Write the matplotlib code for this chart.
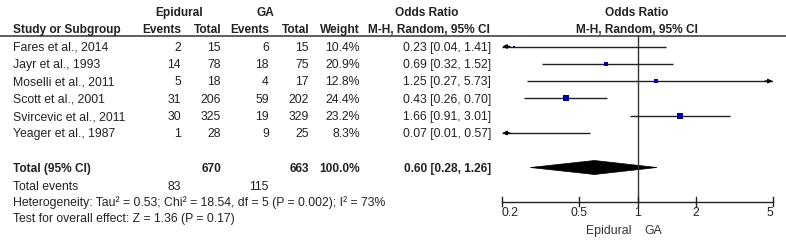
import numpy as np
import matplotlib.pyplot as plt
from matplotlib.patches import Polygon

plt.rcParams["font.family"] = ["Liberation Sans", "DejaVu Sans"]

# Study data
studies = ["Fares et al., 2014", "Jayr et al., 1993", "Moselli et al., 2011",
           "Scott et al., 2001", "Svircevic et al., 2011", "Yeager et al., 1987"]
epi_events = [2, 14, 5, 31, 30, 1]
epi_total = [15, 78, 18, 206, 325, 28]
ga_events = [6, 18, 4, 59, 19, 9]
ga_total = [15, 75, 17, 202, 329, 25]
weights = [10.4, 20.9, 12.8, 24.4, 23.2, 8.3]
odds = [0.23, 0.69, 1.25, 0.43, 1.66, 0.07]
ci_low = [0.04, 0.32, 0.27, 0.26, 0.91, 0.01]
ci_high = [1.41, 1.52, 5.73, 0.70, 3.01, 0.57]

total_epi, total_ga = 670, 663
events_epi, events_ga = 83, 115
pooled = (0.60, 0.28, 1.26)
heterogeneity = "Heterogeneity: Tau\u00b2 = 0.53; Chi\u00b2 = 18.54, df = 5 (P = 0.002); I\u00b2 = 73%"
overall = "Test for overall effect: Z = 1.36 (P = 0.17)"
ticks = [0.2, 0.5, 1, 2, 5]
tick_labels = ["0.2", "0.5", "1", "2", "5"]

W, H = 786, 248
fig = plt.figure(figsize=(W / 100, H / 100), dpi=100)
ax = fig.add_axes([0, 0, 1, 1])
ax.set_xlim(0, W)
ax.set_ylim(H, 0)
ax.axis("off")

fs = 8.8
fb = 8.6
tc = "#222222"
bl = 4.3  # baseline offset below row centre
rows_y = [46.5 + 17.3 * i for i in range(len(studies))]
y_total = 167.5
y_events = 186
y_het = 201.5
y_test = 217.5


def txt(x, y, s, ha="left", bold=False, axis=ax, color=tc):
    axis.text(x, y + bl, s, ha=ha, va="baseline", fontsize=fb if bold else fs,
              weight="bold" if bold else "normal", color=color)


# headers
txt(179, 12, "Epidural", "center", True)
txt(265, 12, "GA", "center", True)
txt(427, 12, "Odds Ratio", "center", True)
txt(637, 12, "Odds Ratio", "center", True)
txt(13, 28.5, "Study or Subgroup", "left", True)
for x, s in [(181, "Events"), (221, "Total"), (269, "Events"), (309, "Total"), (360, "Weight")]:
    txt(x, 28.5, s, "right", True)
txt(429, 28.5, "M-H, Random, 95% CI", "center", True)
txt(637, 28.5, "M-H, Random, 95% CI", "center", True)
ax.plot([0, W], [35.5, 35.5], color="#333333", lw=1.1)

for i, y in enumerate(rows_y):
    txt(13, y, studies[i])
    txt(181, y, str(epi_events[i]), "right")
    txt(221, y, str(epi_total[i]), "right")
    txt(269, y, str(ga_events[i]), "right")
    txt(309, y, str(ga_total[i]), "right")
    txt(360, y, f"{weights[i]:.1f}%", "right")
    txt(491, y, f"{odds[i]:.2f} [{ci_low[i]:.2f}, {ci_high[i]:.2f}]", "right")

txt(13, y_total, "Total (95% CI)", "left", True)
txt(221, y_total, str(total_epi), "right", True)
txt(309, y_total, str(total_ga), "right", True)
txt(360, y_total, "100.0%", "right", True)
txt(491, y_total, f"{pooled[0]:.2f} [{pooled[1]:.2f}, {pooled[2]:.2f}]", "right", True)
txt(13, y_events, "Total events")
txt(181, y_events, str(events_epi), "right")
txt(269, y_events, str(events_ga), "right")
txt(13, y_het, heterogeneity)
txt(13, y_test, overall)

# forest panel: log axis between x=502 and x=773 px
x0, x1 = 502, 773
fax = fig.add_axes([x0 / W, 0, (x1 - x0) / W, 1])
fax.set_xscale("log")
fax.set_xlim(0.2, 5)
fax.set_ylim(H, 0)
fax.axis("off")
lo, hi = 0.2, 5
y_axis = 201.5

fax.plot([1, 1], [35.5, y_axis], color="#333333", lw=1.0)
for i, y in enumerate(rows_y):
    a, b = max(ci_low[i], lo), min(ci_high[i], hi)
    fax.plot([a, b], [y, y], color="#222222", lw=1.0, solid_capstyle="butt")
    if ci_low[i] < lo:
        fax.annotate("", xy=(lo * 1.005, y), xytext=(lo * 1.1, y),
                     arrowprops=dict(arrowstyle="-|>", color="black", lw=1.0,
                                     mutation_scale=6, shrinkA=0, shrinkB=0))
    if ci_high[i] > hi:
        fax.annotate("", xy=(hi / 1.005, y), xytext=(hi / 1.1, y),
                     arrowprops=dict(arrowstyle="-|>", color="black", lw=1.0,
                                     mutation_scale=6, shrinkA=0, shrinkB=0))
    if lo <= odds[i] <= hi:
        fax.plot(odds[i], y, marker="s", color="#000099", markersize=weights[i] * 0.17,
                 markeredgewidth=0)

# pooled diamond
dh = 7
diamond = Polygon([[pooled[1], y_total], [pooled[0], y_total - dh],
                   [pooled[2], y_total], [pooled[0], y_total + dh]],
                  closed=True, facecolor="black", edgecolor="black", lw=0.5)
fax.add_patch(diamond)

# bottom axis
fax.plot([lo, hi], [y_axis, y_axis], color="#222222", lw=1.0, clip_on=False)
for j, (t, lab) in enumerate(zip(ticks, tick_labels)):
    fax.plot([t, t], [y_axis - 4.5, y_axis + 4], color="#222222", lw=1.0, clip_on=False)
    ha = "left" if j == 0 else ("right" if j == len(ticks) - 1 else "center")
    txt(t, 212, lab, ha, axis=fax)
txt(0.93, 229.5, "Epidural", "right", axis=fax, color="#333333")
txt(1.08, 229.5, "GA", "left", axis=fax, color="#333333")

fig.savefig("out.png", dpi=100)
